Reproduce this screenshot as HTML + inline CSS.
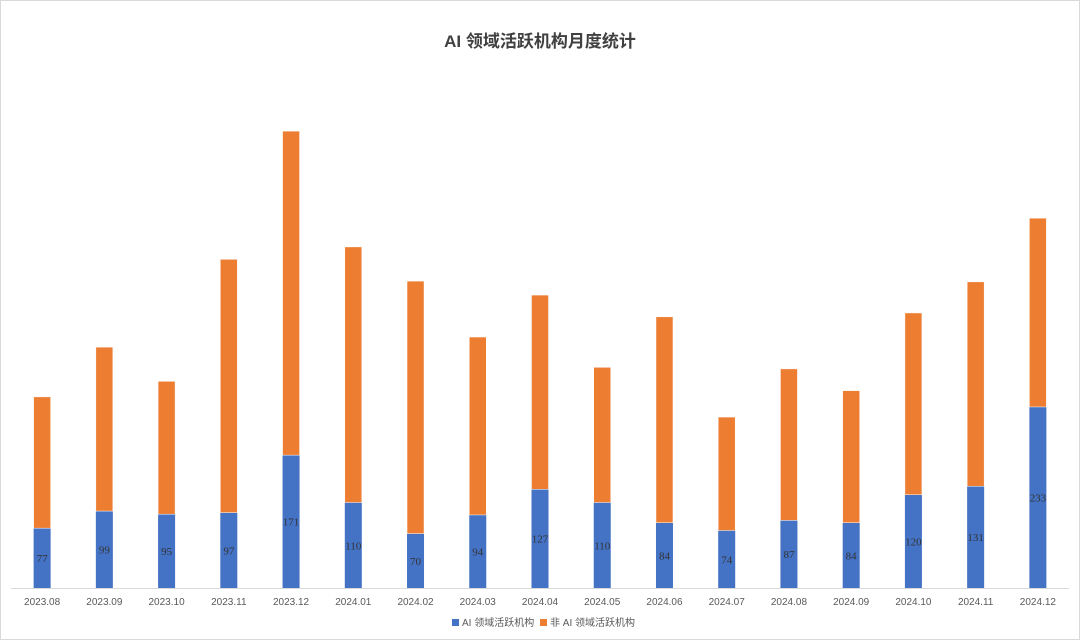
<!DOCTYPE html>
<html><head><meta charset="utf-8"><style>
html,body{margin:0;padding:0;background:#fff;}
svg{display:block;}
</style></head><body>
<svg id="chart" width="1080" height="640" xmlns="http://www.w3.org/2000/svg">
<rect x="0.5" y="0.5" width="1079" height="639" fill="#fff" stroke="#d9d9d9"/>
<text x="540" y="47" text-anchor="middle" font-family="'Liberation Sans','Noto Sans CJK SC',sans-serif" font-size="17" font-weight="bold" fill="#404040">AI 领域活跃机构月度统计</text>
<g id="bars"></g>
<line x1="11" y1="588.5" x2="1069" y2="588.5" stroke="#d9d9d9"/>
<g id="xlabels"></g>
<g font-family="'Liberation Sans','Noto Sans CJK SC',sans-serif" font-size="10" fill="#595959">
<rect x="452" y="619" width="7" height="7" fill="#4472C4"/>
<text x="462" y="626">AI 领域活跃机构</text>
<rect x="540" y="619" width="7" height="7" fill="#ED7D31"/>
<text x="550" y="626">非 AI 领域活跃机构</text>
</g>
</svg>
<script>
const categories=["2023.08","2023.09","2023.10","2023.11","2023.12","2024.01","2024.02","2024.03","2024.04","2024.05","2024.06","2024.07","2024.08","2024.09","2024.10","2024.11","2024.12"];
const aiValues=[77,99,95,97,171,110,70,94,127,110,84,74,87,84,120,131,233];
const nonAiValues=[169,211,171,326,417,329,325,229,250,174,265,146,195,170,234,263,243];
const NS="http://www.w3.org/2000/svg";
const x0=11,x1=1069,base=588,scale=0.777,bw=17;
const step=(x1-x0)/categories.length;
function xC(i){return x0+step*(i+0.5);}
function yH(v){return v*scale;}
const bars=document.getElementById('bars'),xl=document.getElementById('xlabels');
categories.forEach((c,i)=>{
  const cx=xC(i);
  const ha=yH(aiValues[i]),hn=yH(nonAiValues[i]);
  const r1=document.createElementNS(NS,'rect');
  r1.setAttribute('x',cx-bw/2);r1.setAttribute('y',base-ha);r1.setAttribute('width',bw);r1.setAttribute('height',ha);r1.setAttribute('fill','#4472C4');
  
  
  bars.appendChild(r1);
  const r2=document.createElementNS(NS,'rect');
  r2.setAttribute('x',cx-bw/2);r2.setAttribute('y',base-ha-hn);r2.setAttribute('width',bw);r2.setAttribute('height',hn);r2.setAttribute('fill','#ED7D31');
  r2.setAttribute('stroke','#fff');r2.setAttribute('stroke-width','0.5');
  
  
  bars.appendChild(r2);
  const t=document.createElementNS(NS,'text');
  t.setAttribute('x',cx);t.setAttribute('y',base-ha/2+4);t.setAttribute('text-anchor','middle');
  t.setAttribute('font-family',"'Liberation Serif',serif");t.setAttribute('font-size','11');t.setAttribute('fill','#333');
  t.textContent=aiValues[i];
  
  
  bars.appendChild(t);
  const l=document.createElementNS(NS,'text');
  l.setAttribute('x',cx);l.setAttribute('y',605);l.setAttribute('text-anchor','middle');
  l.setAttribute('font-family',"'Liberation Sans',sans-serif");l.setAttribute('font-size','10');l.setAttribute('fill','#595959');
  l.textContent=c;
  
  
  xl.appendChild(l);
});
</script>
</body></html>
